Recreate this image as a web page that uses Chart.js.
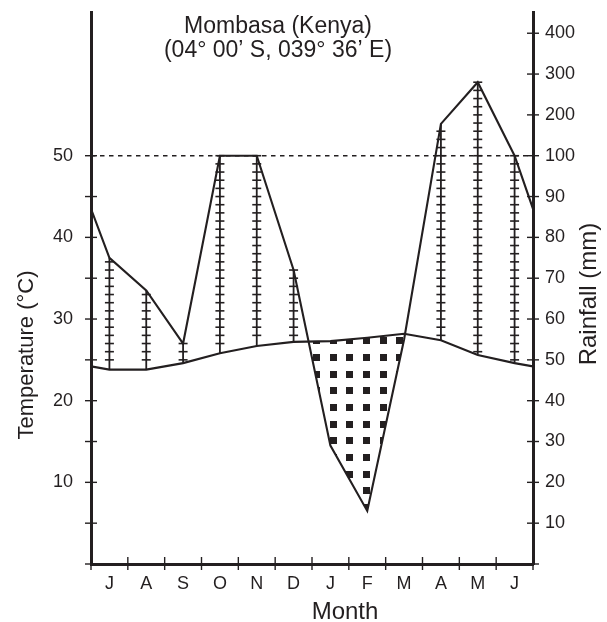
<!DOCTYPE html>
<html><head><meta charset="utf-8">
<script src="https://cdn.jsdelivr.net/npm/chart.js@4.4.1/dist/chart.umd.min.js"></script>
<style>html,body{margin:0;padding:0;background:#fff;}</style>
</head><body>
<canvas id="c" width="607" height="622" style="width:607px;height:622px;display:block"></canvas>
<script>
// ---- data ----
const months = ['J','A','S','O','N','D','J','F','M','A','M','J'];
const temperatureC = [23.8, 23.8, 24.6, 25.8, 26.7, 27.2, 27.3, 27.7, 28.2, 27.4, 25.6, 24.6];
const rainfallMm   = [75, 67, 54, 100, 100, 72, 29, 13, 55, 178, 280, 100];
const temperatureEdge = 24.2;   // where the temperature curve meets the side axes
const rainfallEdge = 87;        // where the rainfall curve meets the side axes
const tempTickValues = [10, 20, 30, 40, 50];
const rainTickMm = [10, 20, 30, 40, 50, 60, 70, 80, 90, 100, 200, 300, 400];
const titleLines = ['Mombasa (Kenya)', '(04\u00b0 00\u2019 S, 039\u00b0 36\u2019 E)'];
const tempAxisTitle = 'Temperature (\u00b0C)';
const rainAxisTitle = 'Rainfall (mm)';
const monthAxisTitle = 'Month';

// ---- settings ----
const INK = '#231f20';
const Y_MAX = 67.6;
const FONT = "'Liberation Sans', Arial, Helvetica, sans-serif";
// Walter–Lieth rainfall scale: 2 mm per °C up to 100 mm, then 20 mm per °C
const toUnits = mm => mm <= 100 ? mm / 2 : 50 + (mm - 100) / 20;

const xs = [0, ...months.map((m, i) => i + 0.5), months.length];
const tempPoints = xs.map((x, k) => ({x, y: k === 0 || k === xs.length - 1 ? temperatureEdge : temperatureC[k - 1]}));
const rainPoints = xs.map((x, k) => ({x, y: toUnits(k === 0 || k === xs.length - 1 ? rainfallEdge : rainfallMm[k - 1])}));

function makeDots() {
  const c = document.createElement('canvas'); c.width = 50; c.height = 50;
  const g = c.getContext('2d'); g.fillStyle = INK;
  [0, 17, 33].forEach(a => [0, 17, 33].forEach(b => g.fillRect(a, b, 7, 7)));
  const p = g.createPattern(c, 'repeat');
  if (p.setTransform) p.setTransform(new DOMMatrix().translate(13, 4));
  return p;
}

Chart.defaults.font.family = FONT;
Chart.defaults.color = INK;

const noPad = s => { s.paddingTop = 0; s.paddingBottom = 0; s.paddingLeft = 0; s.paddingRight = 0; };

const decor = {
  id: 'decor',
  afterDatasetsDraw(chart) {
    const {ctx, scales: {x, y}} = chart;
    ctx.save();
    ctx.strokeStyle = INK;
    months.forEach((m, i) => {
      const t = temperatureC[i], r = toUnits(rainfallMm[i]);
      if (r <= t) return;
      const px = x.getPixelForValue(i + 0.5);
      ctx.lineWidth = 1.8;
      ctx.beginPath(); ctx.moveTo(px, y.getPixelForValue(t)); ctx.lineTo(px, y.getPixelForValue(r)); ctx.stroke();
      ctx.lineWidth = 1.6;
      for (let v = Math.ceil(t + 0.4); v <= r + 0.05; v++) {
        const py = y.getPixelForValue(v);
        ctx.beginPath(); ctx.moveTo(px - 4.5, py); ctx.lineTo(px + 4.5, py); ctx.stroke();
      }
    });
    ctx.restore();
  },
  afterDraw(chart) {
    const {ctx, chartArea: a, scales: {x, y}} = chart;
    ctx.save();
    ctx.strokeStyle = INK; ctx.lineWidth = 1.4;
    for (let v = 0; v <= 50; v += 5) {
      const py = y.getPixelForValue(v);
      ctx.beginPath(); ctx.moveTo(a.left - 6, py); ctx.lineTo(a.left + 6, py); ctx.stroke();
    }
    for (let v = 0; v <= 65; v += 5) {
      const py = y.getPixelForValue(v);
      ctx.beginPath(); ctx.moveTo(a.right - 6, py); ctx.lineTo(a.right + 6, py); ctx.stroke();
    }
    for (let v = 0; v <= months.length; v++) {
      const px = x.getPixelForValue(v);
      ctx.beginPath(); ctx.moveTo(px, a.bottom - 7); ctx.lineTo(px, a.bottom + 6); ctx.stroke();
    }
    ctx.fillStyle = INK;
    ctx.textAlign = 'center';
    ctx.textBaseline = 'alphabetic';
    ctx.font = '23px ' + FONT;
    ctx.fillText(titleLines[0], 278, 33);
    ctx.fillText(titleLines[1], 278, 56.5);
    ctx.font = '24px ' + FONT;
    ctx.fillText(monthAxisTitle, 345, 619);
    ctx.textBaseline = 'middle';
    ctx.save(); ctx.translate(27, 355); ctx.rotate(-Math.PI / 2);
    ctx.font = '22px ' + FONT; ctx.fillText(tempAxisTitle, 0, 0); ctx.restore();
    ctx.save(); ctx.translate(589, 294); ctx.rotate(-Math.PI / 2);
    ctx.font = '24px ' + FONT; ctx.fillText(rainAxisTitle, 0, 0); ctx.restore();
    ctx.restore();
  }
};

new Chart(document.getElementById('c'), {
  type: 'line',
  data: {
    datasets: [
      {label: 'Temperature', data: tempPoints, borderColor: INK, borderWidth: 2.1, pointRadius: 0, tension: 0, fill: false},
      {label: 'Rainfall', data: rainPoints, borderColor: INK, borderWidth: 2.1, pointRadius: 0, tension: 0,
       fill: {target: 0, above: 'rgba(0,0,0,0)', below: makeDots()}},
      {label: '100 mm', data: [{x: 0, y: toUnits(100)}, {x: months.length, y: toUnits(100)}], borderColor: INK,
       borderWidth: 1.5, borderDash: [4.5, 4.5], pointRadius: 0, fill: false}
    ]
  },
  options: {
    responsive: false, animation: false,
    layout: {padding: {top: 12, left: 0, right: 0, bottom: 0}},
    plugins: {legend: {display: false}, tooltip: {enabled: false}, title: {display: false}},
    events: [],
    scales: {
      x: {type: 'linear', min: 0, max: months.length,
        afterBuildTicks(s) { s.ticks = months.map((m, i) => ({value: i + 0.5})); },
        ticks: {callback: (v, i) => months[i], padding: 9, font: {size: 18}, color: INK, autoSkip: false, maxRotation: 0},
        grid: {display: false, drawTicks: false},
        border: {display: true, width: 3, color: INK},
        afterFit(s) { s.height = 58; noPad(s); }},
      y: {position: 'left', min: 0, max: Y_MAX,
        afterBuildTicks(s) { s.ticks = tempTickValues.map(v => ({value: v})); },
        ticks: {padding: 18, font: {size: 18}, color: INK, autoSkip: false},
        grid: {display: false, drawTicks: false},
        border: {display: true, width: 3, color: INK},
        afterFit(s) { s.width = 91; noPad(s); }},
      y2: {position: 'right', min: 0, max: Y_MAX,
        afterBuildTicks(s) { s.ticks = rainTickMm.map(mm => ({value: toUnits(mm)})); },
        ticks: {callback: (v, i) => String(rainTickMm[i]), padding: 12, font: {size: 18}, color: INK, autoSkip: false},
        grid: {display: false, drawTicks: false},
        border: {display: true, width: 3, color: INK},
        afterFit(s) { s.width = 74; noPad(s); }}
    }
  },
  plugins: [decor]
});
</script>
</body></html>
